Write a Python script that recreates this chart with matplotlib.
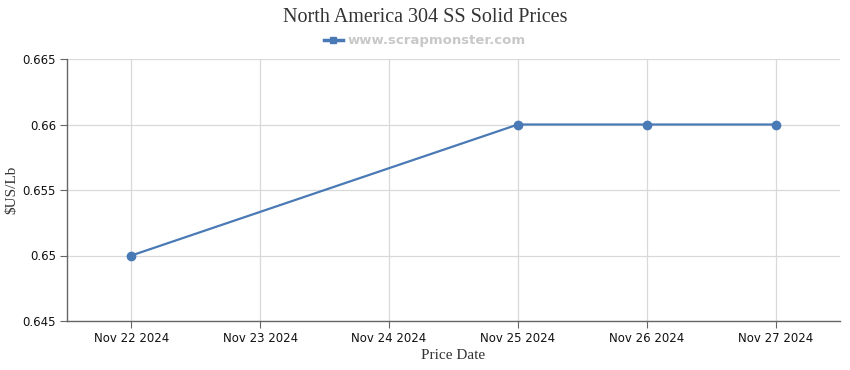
import numpy as np
import matplotlib
matplotlib.use("Agg")
import matplotlib.pyplot as plt
from matplotlib.lines import Line2D

# chart data
dates = ["Nov 22 2024", "Nov 23 2024", "Nov 24 2024", "Nov 25 2024", "Nov 26 2024", "Nov 27 2024"]
price_idx = [0, 3, 4, 5]
prices = [0.650, 0.660, 0.660, 0.660]
y_ticks = [0.645, 0.65, 0.655, 0.66, 0.665]
y_labels = ["0.645", "0.65", "0.655", "0.66", "0.665"]

line_color = "#4a7ab5"
grid_color = "#d9d9d9"

fig = plt.figure(figsize=(8.5, 3.7), dpi=100)
ax = fig.add_axes([67 / 850, 1 - 321 / 370, (840 - 67) / 850, (321 - 59) / 370])

ax.plot(price_idx, prices, color=line_color, linewidth=1.6, marker="o", markersize=6)

ax.set_xlim(-0.5, len(dates) - 0.5)
ax.set_ylim(0.645, 0.665)
ax.set_xticks(range(len(dates)))
ax.set_xticklabels(dates, fontsize=8.5, color="#111111")
ax.set_yticks(y_ticks)
ax.set_yticklabels(y_labels, fontsize=8.5, color="#111111")

ax.grid(True, color=grid_color, linewidth=0.9)
ax.set_axisbelow(True)
for s in ["top", "right"]:
    ax.spines[s].set_visible(False)
for s in ["left", "bottom"]:
    ax.spines[s].set_color("#666666")
    ax.spines[s].set_linewidth(1)
ax.tick_params(axis="both", length=5, color="#666666", pad=3)

ax.set_xlabel("Price Date", fontsize=11, family="Liberation Serif", color="#333333", labelpad=3)
ax.set_ylabel("$US/Lb", fontsize=11, family="Liberation Serif", color="#333333", labelpad=3)

fig.text(0.5, 0.953, "North America 304 SS Solid Prices", ha="center", va="center",
         fontsize=14.5, family="Liberation Serif", color="#333333")

handle = Line2D([], [], color=line_color, linewidth=2.5, marker="s", markersize=5)
fig.legend([handle], ["www.scrapmonster.com"], loc="center", bbox_to_anchor=(0.5, 0.89),
           frameon=False, handlelength=1.4, handletextpad=0.4,
           prop={"weight": "bold", "size": 9.5})
for t in fig.legends[0].get_texts():
    t.set_color("#c8c8c8")

fig.savefig("out.png", dpi=100)
